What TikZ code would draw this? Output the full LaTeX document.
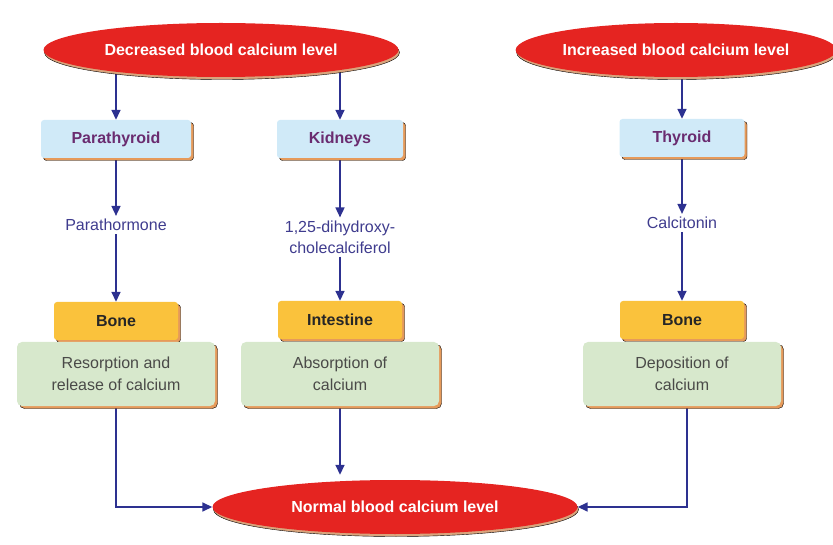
\documentclass[tikz,border=0pt]{standalone}
\usepackage{fontspec}
\setmainfont{Liberation Sans}
\usetikzlibrary{shapes.geometric, arrows.meta, shadows, backgrounds}

\definecolor{calred}{HTML}{E52421}
\definecolor{ovalshade}{HTML}{D9A47C}
\definecolor{glandblue}{HTML}{D0EAF8}
\definecolor{glandtext}{HTML}{6A2C70}
\definecolor{organorange}{HTML}{FAC23C}
\definecolor{actgreen}{HTML}{D7E8CC}
\definecolor{acttext}{HTML}{4A4A48}
\definecolor{boxshade}{HTML}{E69A5A}
\definecolor{arrowblue}{HTML}{2D3190}
\definecolor{hormtext}{HTML}{3F3C8E}

\begin{document}
\begin{tikzpicture}[x=1pt, y=-1pt,
    oval/.style={ellipse, fill=calred, text=white, inner sep=0pt, minimum height=54pt,
        font=\bfseries\fontsize{16}{19}\selectfont,
        copy shadow={shadow xshift=1pt, shadow yshift=-2.5pt, fill=ovalshade}},
    gland/.style={rectangle, rounded corners=3pt, fill=glandblue, text=glandtext,
        minimum height=38pt, font=\bfseries\fontsize{16}{19}\selectfont,
        copy shadow={shadow xshift=2.5pt, shadow yshift=-2.5pt, fill=boxshade}},
    organ/.style={rectangle, rounded corners=3pt, fill=organorange, text=black!85,
        minimum width=124pt, minimum height=38pt, font=\bfseries\fontsize{16}{19}\selectfont,
        copy shadow={shadow xshift=2.5pt, shadow yshift=-2.5pt, fill=boxshade}},
    action/.style={rectangle, rounded corners=5pt, fill=actgreen, text=acttext, align=center,
        minimum width=198pt, minimum height=64pt, font=\fontsize{16}{22}\selectfont,
        copy shadow={shadow xshift=2.5pt, shadow yshift=-2.5pt, fill=boxshade}},
    hormone/.style={text=hormtext, align=center, inner sep=3pt, font=\fontsize{16}{21}\selectfont},
    arr/.style={-{Triangle[length=10pt, width=9pt]}, draw=arrowblue, line width=1.6pt}]

    \useasboundingbox (0,0) rectangle (833,545);

    %nodes
    \node[oval, minimum width=355pt] (dec) at (221, 50) {Decreased blood calcium level};
    \node[oval, minimum width=312pt] (inc) at (676, 50) {Increased blood calcium level};
    \node[oval, minimum width=365pt] (norm) at (395, 507) {Normal blood calcium level};

    \node[gland, minimum width=150pt] (para) at (116, 139) {Parathyroid};
    \node[gland, minimum width=126pt] (kid) at (340, 139) {Kidneys};
    \node[gland, minimum width=125pt] (thy) at (682, 138) {Thyroid};

    \node[hormone] (pth) at (116, 225) {Parathormone};
    \node[hormone] (dhcc) at (340, 237) {1,25-dihydroxy-\\cholecalciferol};
    \node[hormone] (calc) at (682, 223) {Calcitonin};

    \node[organ] (bone1) at (116, 321) {Bone};
    \node[organ] (gut) at (340, 320) {Intestine};
    \node[organ] (bone2) at (682, 320) {Bone};

    \node[action] (resorb) at (116, 374) {Resorption and\\release of calcium};
    \node[action] (absorb) at (340, 374) {Absorption of\\calcium};
    \node[action] (depos) at (682, 374) {Deposition of\\calcium};

    %edges
    \begin{pgfonlayer}{background}
        \draw[arr] (dec.center -| para) -- (para);
        \draw[arr] (dec.center -| kid) -- (kid);
        \draw[arr] (inc.center -| thy) -- (thy);

        \draw[arr] (para) -- (pth);
        \draw[arr] (pth) -- (bone1);
        \draw[arr] (kid) -- (dhcc);
        \draw[arr] (dhcc) -- (gut);
        \draw[arr] (thy) -- (calc);
        \draw[arr] (calc) -- (bone2);

        \draw[arr] (resorb.south) |- (norm.west);
        \draw[arr, shorten >=5pt] (absorb.south) -- (absorb.south |- norm.north);
        \draw[arr] ([xshift=5pt]depos.south) |- (norm.east);
    \end{pgfonlayer}
\end{tikzpicture}
\end{document}
